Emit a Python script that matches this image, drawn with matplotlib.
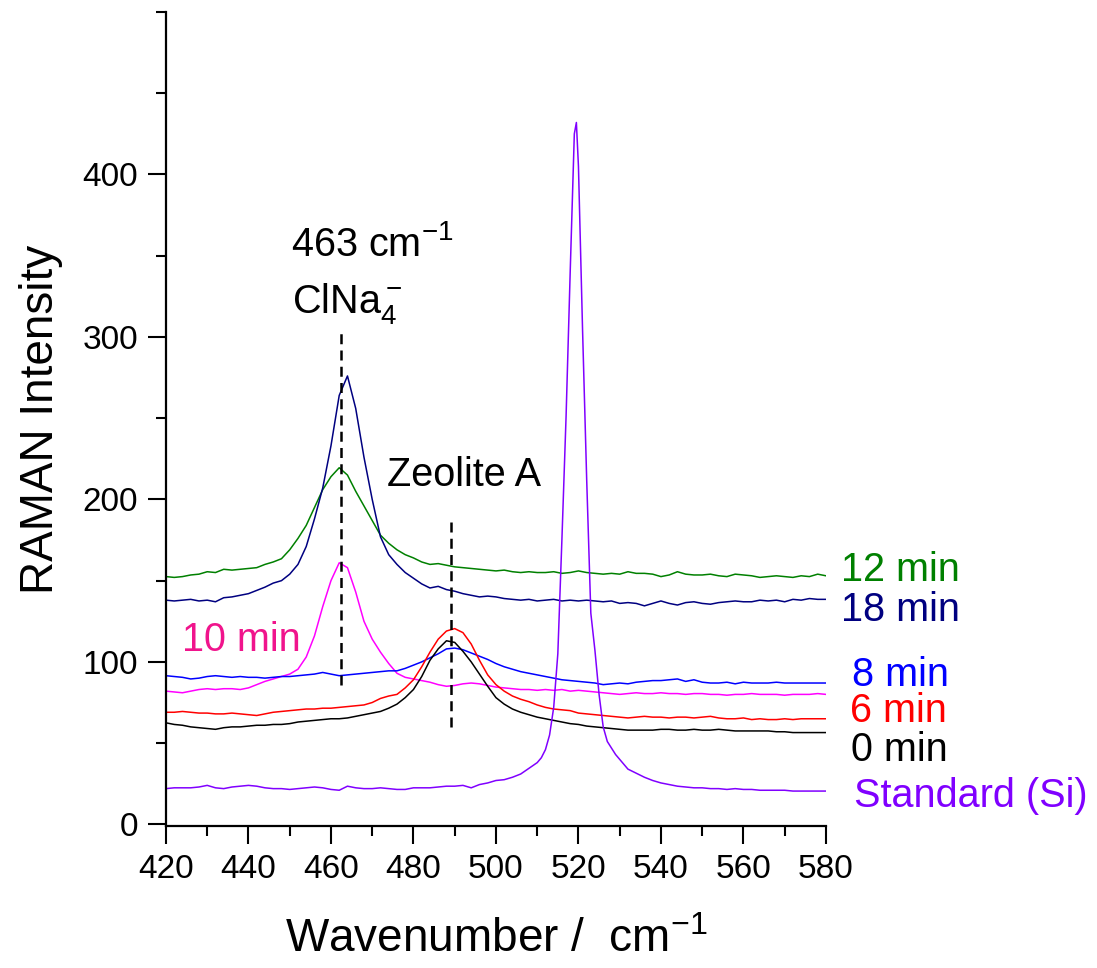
# Raman spectra of zeolite A synthesis vs. time, with Si standard.

import matplotlib.pyplot as plt
import numpy as np
from matplotlib.ticker import MultipleLocator

plt.rcParams["font.family"] = ["Liberation Sans", "DejaVu Sans"]
plt.rcParams["mathtext.fontset"] = "custom"
plt.rcParams["mathtext.rm"] = "Liberation Sans"
plt.rcParams["mathtext.it"] = "Liberation Sans:italic"

# Common wavenumber grid (cm-1) for the broad spectra
wavenumber = np.arange(420, 581, 2)

min12 = [152.5, 152, 152.5, 153.5, 154, 155.5, 155, 157, 156.5, 157,
         157.5, 158, 160, 161.5, 163.5, 169, 176, 184, 195, 206,
         214, 219.5, 215, 205, 196, 187, 178, 173, 169, 166,
         164, 161.5, 160, 160.5, 159.5, 158.5, 158, 157.5, 157, 156.5,
         156, 156.5, 155.5, 155, 155.5, 155, 155, 155.5, 154.5, 155,
         156, 155, 154.5, 154, 154.5, 154, 155.5, 154.5, 154.5, 154,
         152.5, 153.5, 155.5, 154, 153.5, 153.5, 154, 153, 152.5, 154,
         153.5, 153, 152, 152.5, 153, 152.5, 152, 153, 152.5, 154, 153]

min18 = [138, 137.5, 138, 138.5, 137.5, 138, 137, 139.5, 140, 141,
         142, 144, 146, 148.5, 150, 154, 160, 171, 188, 207,
         233, 264, 276, 256, 226, 200, 177, 166, 160, 155,
         151.5, 148, 145.5, 146.5, 144.5, 143.5, 142, 141, 140, 140.5,
         140, 139, 138.5, 138, 138.5, 137.5, 138, 138.5, 137.5, 138,
         137.5, 138, 137.5, 137, 137.5, 136, 136.5, 136, 134.5, 136,
         137.5, 136, 135, 136.5, 137, 136, 135.5, 136.5, 137, 137.5,
         137, 137, 138, 137.5, 138, 137, 138.5, 138, 139, 138.5, 138.5]

min10 = [82, 81.5, 81, 82, 83, 83.5, 83, 83.5, 83.5, 83,
         84, 86, 88, 89.5, 91, 92.5, 95.5, 103, 116, 134,
         150, 161, 158, 143, 125, 114, 106, 99, 93, 90.5,
         89.5, 88.5, 87.5, 86, 85, 85.5, 86.5, 87, 86.5, 85.5,
         84.5, 84, 83.5, 83, 83, 82.5, 83, 82.5, 83, 82,
         82.5, 82, 81.5, 81, 80.5, 80, 80.5, 81, 80.5, 80.5,
         81, 80.5, 80.5, 80, 80.5, 80.5, 80, 80, 79.5, 80,
         80, 80.5, 80, 80, 80, 79.5, 80, 80, 80, 80.5, 80]

min8 = [91.5, 91, 90.5, 89.5, 90, 91, 91.5, 91, 90.5, 91,
        90.5, 90.5, 90, 90.5, 91, 91, 91.5, 92, 92.5, 93.5,
        92.5, 91.5, 92, 92.5, 93, 93.5, 94, 94.5, 94.5, 96,
        98, 100, 102.5, 105, 108, 108.5, 107.5, 105.5, 103.5, 101.5,
        99, 97, 95.5, 94, 93, 92, 91, 90, 89, 88.5,
        88, 87.5, 87, 86, 86.5, 87, 86.5, 87.5, 88, 88.5,
        88.5, 89, 89.5, 88, 89, 87.5, 87, 87, 87.5, 86.5,
        87.5, 87, 87, 87, 87.5, 87, 87, 87, 87, 87, 87]

min6 = [69, 69, 69.5, 69, 68.5, 68.5, 68, 68, 68.5, 68,
        67.5, 67, 68, 69, 69.5, 70, 70.5, 71, 71, 71.5,
        71.5, 72, 72.5, 73, 73.5, 75, 77.5, 79, 80, 84,
        89, 97, 106, 114, 119, 120.5, 118, 111, 101, 92,
        86, 82, 79, 77, 75.5, 73.5, 72, 71, 70.5, 70,
        68.5, 68, 67.5, 67, 66.5, 66, 65.5, 66, 66.5, 66,
        66, 65.5, 66, 66, 65.5, 66, 66.5, 65.5, 65, 65,
        65.5, 64.5, 65, 64.5, 64.5, 65, 64.5, 65, 65, 65, 65]

min0 = [62.5, 61.5, 61, 60, 59.5, 59, 58.5, 59.5, 60, 60,
        60.5, 61, 61, 61.5, 61.5, 62, 63, 63.5, 64, 64.5,
        65, 65, 65.5, 66.5, 67.5, 68.5, 69.5, 71.5, 74, 78,
        83, 91, 101, 108, 113, 112, 106.5, 100, 92.5, 85,
        78, 74, 71, 69, 67.5, 66, 65, 64, 63, 62,
        61.5, 60.5, 60, 59.5, 59, 58.5, 58, 58, 58, 58,
        58.5, 58.5, 58, 58, 58.5, 58, 58, 58.5, 58, 57.5,
        57.5, 57.5, 57.5, 57.5, 57, 57, 56.5, 56.5, 56.5, 56.5, 56.5]

# Si standard, finer sampling around the 520 cm-1 line
si_wavenumber = [420, 422, 424, 426, 428, 430, 432, 434, 436, 438,
                 440, 442, 444, 446, 448, 450, 452, 454, 456, 458,
                 460, 462, 464, 466, 468, 470, 472, 474, 476, 478,
                 480, 482, 484, 486, 488, 490, 492, 494, 496, 498,
                 500, 502, 504, 506, 508, 510, 511, 512, 513, 514,
                 515, 516, 517, 518, 519, 519.5, 520, 521, 522, 523,
                 524, 525, 526, 527, 528, 529, 530, 532, 534, 536,
                 538, 540, 542, 544, 546, 548, 550, 552, 554, 556,
                 558, 560, 562, 564, 566, 568, 570, 572, 574, 576,
                 578, 580]
si_standard = [22, 22.5, 22.5, 22.5, 23, 24, 22.5, 22, 23, 23.5,
               24, 23.5, 22.5, 22, 22, 21.5, 22, 22.5, 23, 22.5,
               21.5, 21, 23.5, 22.5, 22, 22, 22.5, 22, 21.5, 21.5,
               22.5, 22.5, 22.5, 23, 23.5, 23.5, 24, 22.5, 24.5, 25.5,
               27, 27.5, 29, 31, 34.5, 38, 41, 46, 55, 72,
               105, 176, 251, 340, 425, 432, 405, 304, 212, 130,
               107, 80, 60, 51, 47, 43, 40, 34, 31.5, 29,
               27, 25.5, 24.5, 23.5, 23, 22.5, 22.5, 22, 22, 21.5,
               22, 21.5, 21.5, 21, 21, 21, 21, 20.5, 20.5, 20.5,
               20.5, 20.5]

series = [
    (min12, "#008000"),
    (min18, "#000080"),
    (min10, "#ff00ff"),
    (min8, "#0000ff"),
    (min6, "#ff0000"),
    (min0, "#000000"),
]

fig = plt.figure(figsize=(10.97, 9.68), dpi=100)
ax = fig.add_axes([0.1513, 0.1467, 0.6016, 0.8409])

for values, color in series:
    ax.plot(wavenumber, values, color=color, lw=1.1)
ax.plot(si_wavenumber, si_standard, color="#8000ff", lw=1.1)

# marker lines for the two bands
ax.vlines(462.4, 86, 304, colors="black", lw=1.8, linestyles=(0, (4, 2.5)))
ax.vlines(489, 60, 190, colors="black", lw=1.8, linestyles=(0, (4, 2.5)))

fs = 28.5
ax.text(450.3, 350, "463 cm$^{-1}$", fontsize=fs)
ax.text(450.5, 315, "ClNa$_4^-$", fontsize=fs)
ax.text(473.6, 208, "Zeolite A", fontsize=fs)
ax.text(424, 107, "10 min", fontsize=fs, color="#f0148c")

# labels at the right end of each trace
right_labels = [
    ("12 min", 583.6, 150, "#008000"),
    ("18 min", 583.6, 125, "#000080"),
    ("8 min", 586.3, 85, "#0000ff"),
    ("6 min", 585.8, 62.7, "#ff0000"),
    ("0 min", 586, 39, "#000000"),
    ("Standard (Si)", 586.8, 10.5, "#8000ff"),
]
for text, x, y, color in right_labels:
    ax.text(x, y, text, fontsize=fs, color=color, clip_on=False)

ax.set_xlim(420, 580)
ax.set_ylim(-1, 500)
ax.set_yticks([0, 100, 200, 300, 400])
ax.xaxis.set_major_locator(MultipleLocator(20))
ax.xaxis.set_minor_locator(MultipleLocator(10))
ax.yaxis.set_minor_locator(MultipleLocator(50))

for side in ["top", "right"]:
    ax.spines[side].set_visible(False)
for side in ["left", "bottom"]:
    ax.spines[side].set_linewidth(1.6)

ax.tick_params(which="major", direction="out", length=13, width=1.5,
               labelsize=24, pad=7)
ax.tick_params(which="minor", direction="out", length=7, width=1.5)

ax.set_xlabel("Wavenumber /  cm$^{-1}$", fontsize=33, labelpad=24)
ax.set_ylabel("RAMAN Intensity", fontsize=33, labelpad=14)

fig.savefig("out.png", dpi=100)
